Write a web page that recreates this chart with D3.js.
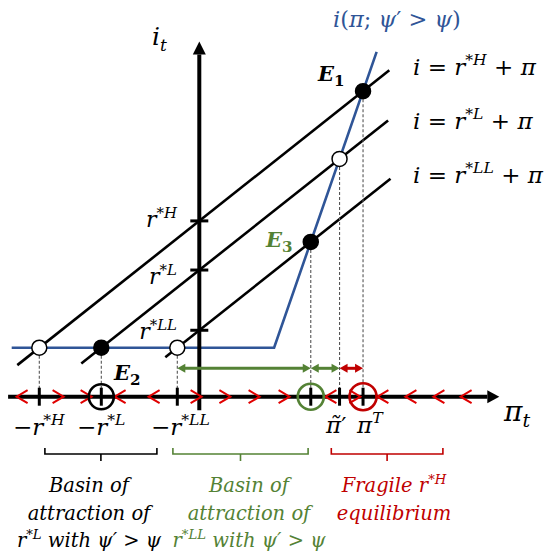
<!DOCTYPE html>
<html><head><meta charset="utf-8">
<script src="https://cdn.jsdelivr.net/npm/d3@7"></script>
<style>body{margin:0;background:#fff}</style>
</head><body>
<svg id="chart" width="554" height="553"></svg>
<script>
// Natural-rate regimes and the Fisher lines i = r* + pi
const regimes = ["H", "L", "LL"];
const rStar = [4.0, 2.45, 0.55];
const fisherFrom = [-4.55, -2.95, -0.85];
const fisherTo = [4.75, 4.72, 4.78];

// Policy rule i(pi; psi' > psi): zero floor, then a steep rise past the kink
const floorFrom = -4.69;
const kinkPi = 1.87;
const taylorSlope = 3.64;
const taylorTop = 9.33;

// Direction of inflation dynamics along the pi axis (+1 right, -1 left)
const chevronPi = [-4.43, -3.53, -2.83, -1.98, -1.13, -0.08, 0.64, 1.37, 2.12, 3.29, 3.89, 4.59, 5.29, 5.99, 6.67];
const chevronDir = [-1, 1, 1, -1, -1, 1, 1, 1, 1, -1, 1, -1, -1, -1, -1];

const BLUE = "#2f5597", GREEN = "#548235", RED = "#c00000", CHEV = "#e00000";
const SERIF = "'DejaVu Serif', serif";

const svg = d3.select("#chart");
const x = d3.scaleLinear().domain([0, 1]).range([199.3, 239.3]);
const y = d3.scaleLinear().domain([0, 1]).range([347.7, 316.0]);
const axisI = -1.546;      // level where the pi axis is drawn
const arrowRowI = -0.65;   // level of the interval arrows

// Equilibria: floor crossings at pi = -r*, upper crossings with the steep branch
const upperPi = rStar.map(r => (taylorSlope * kinkPi + r) / (taylorSlope - 1));
const floorEq = rStar.map((r, k) => ({pi: -r, i: 0, fill: regimes[k] === "L" ? "#000" : "#fff"}));
const upperEq = rStar.map((r, k) => ({pi: upperPi[k], i: r + upperPi[k], fill: regimes[k] === "L" ? "#fff" : "#000"}));
const piE3 = upperPi[2], piTilde = upperPi[1], piT = upperPi[0];

// Fisher lines
const line = d3.line().x(d => x(d[0])).y(d => y(d[1]));
rStar.forEach((r, k) => {
  svg.append("path")
    .attr("d", line([[fisherFrom[k], r + fisherFrom[k]], [fisherTo[k], r + fisherTo[k]]]))
    .attr("stroke", "#000").attr("stroke-width", 2.6).attr("fill", "none");
});

// Policy rule
const taylorPts = [[floorFrom, 0], [kinkPi, 0], [kinkPi + taylorTop / taylorSlope, taylorTop]];
svg.append("path").attr("d", line(taylorPts))
  .attr("stroke", BLUE).attr("stroke-width", 2.6).attr("fill", "none");

// Dashed projections onto the pi axis
const dash = svg.append("g").attr("stroke", "#555").attr("stroke-width", 1.1).attr("stroke-dasharray", "3,2");
floorEq.concat(upperEq).forEach(e => {
  dash.append("line").attr("x1", x(e.pi)).attr("x2", x(e.pi))
    .attr("y1", y(e.i) + 8).attr("y2", y(axisI));
});

// Axes
const axisG = svg.append("g");
axisG.append("line").attr("x1", x(0)).attr("x2", x(0)).attr("y1", y(-1.97)).attr("y2", y(9.25))
  .attr("stroke", "#000").attr("stroke-width", 4);
axisG.append("path").attr("d", `M${x(0) - 6.5},${y(9.25)} L${x(0)},${y(9.66)} L${x(0) + 6.5},${y(9.25)} Z`).attr("fill", "#000");
axisG.append("line").attr("x1", x(-4.78)).attr("x2", x(7.2)).attr("y1", y(axisI)).attr("y2", y(axisI))
  .attr("stroke", "#000").attr("stroke-width", 4);
axisG.append("path").attr("d", `M${x(7.2)},${y(axisI) - 6.5} L${x(7.5)},${y(axisI)} L${x(7.2)},${y(axisI) + 6.5} Z`).attr("fill", "#000");

// Ticks on the i axis at r*
rStar.forEach(r => {
  axisG.append("line").attr("x1", x(0) - 9).attr("x2", x(0) + 9).attr("y1", y(r)).attr("y2", y(r))
    .attr("stroke", "#000").attr("stroke-width", 3);
});
// Ticks on the pi axis
[-rStar[0], -rStar[1], -rStar[2], piE3, piTilde, piT].forEach(p => {
  axisG.append("line").attr("x1", x(p)).attr("x2", x(p)).attr("y1", y(axisI) - 9).attr("y2", y(axisI) + 9)
    .attr("stroke", "#000").attr("stroke-width", 3);
});

// Dynamics chevrons
chevronPi.forEach((p, k) => {
  const cx = x(p), cy = y(axisI), d = chevronDir[k];
  svg.append("path").attr("d", `M${cx - 5.5 * d},${cy - 6.5} L${cx + 5.5 * d},${cy} L${cx - 5.5 * d},${cy + 6.5}`)
    .attr("stroke", CHEV).attr("stroke-width", 2).attr("fill", "none");
});

// Rings marking stable / fragile points on the axis
[[-rStar[1], "#000", 12.5], [piE3, GREEN, 13], [piT, RED, 13.5]].forEach(([p, c, rad]) => {
  svg.append("circle").attr("cx", x(p)).attr("cy", y(axisI)).attr("r", rad)
    .attr("fill", "none").attr("stroke", c).attr("stroke-width", 2.6);
});

// Interval arrows
function doubleArrow(p1, p2, color) {
  const x1 = x(p1), x2 = x(p2), yy = y(arrowRowI), h = 8, w = 4.5;
  svg.append("line").attr("x1", x1 + h - 1).attr("x2", x2 - h + 1).attr("y1", yy).attr("y2", yy)
    .attr("stroke", color).attr("stroke-width", 3);
  svg.append("path").attr("d", `M${x1},${yy} L${x1 + h},${yy - w} L${x1 + h},${yy + w} Z`).attr("fill", color);
  svg.append("path").attr("d", `M${x2},${yy} L${x2 - h},${yy - w} L${x2 - h},${yy + w} Z`).attr("fill", color);
}
doubleArrow(-rStar[2], piE3, GREEN);
doubleArrow(piE3, piTilde, GREEN);
doubleArrow(piTilde, piT, RED);

// Equilibrium points
floorEq.concat(upperEq).forEach(e => {
  svg.append("circle").attr("cx", x(e.pi)).attr("cy", y(e.i)).attr("r", 7.5)
    .attr("fill", e.fill).attr("stroke", "#000").attr("stroke-width", 1.5);
});

// Math-style text: parts are [string, mode] with mode it | rm | sup | sub | bit
function mtext(px, py, parts, opt = {}) {
  const size = opt.size || 22;
  const t = svg.append("text").attr("x", px).attr("y", py)
    .attr("font-family", SERIF).attr("font-size", size)
    .attr("fill", opt.fill || "#000").attr("text-anchor", opt.anchor || "start");
  let shift = 0;
  parts.forEach(([s, mode]) => {
    const ts = t.append("tspan").text(s);
    let target = 0;
    if (mode === "sup") { target = -0.42 * size; ts.attr("font-size", size * 0.68).attr("font-style", "italic"); }
    else if (mode === "sub") { target = 0.22 * size; ts.attr("font-size", size * 0.68).attr("font-style", "italic"); }
    else if (mode === "subb") { target = 0.22 * size; ts.attr("font-size", size * 0.72).attr("font-weight", "bold"); }
    else if (mode === "it") ts.attr("font-style", "italic");
    else if (mode === "bit") ts.attr("font-style", "italic").attr("font-weight", "bold");
    if (target !== shift) { ts.attr("dy", target - shift); shift = target; }
  });
  return t;
}

mtext(152, 45, [["i", "it"], ["t", "sub"]], {size: 25});
mtext(333, 27, [["i", "it"], ["(", "rm"], ["π", "it"], ["; ", "rm"], ["ψ", "it"], ["′ > ", "rm"], ["ψ", "it"], [")", "rm"]], {size: 22.5, fill: BLUE});

mtext(413, 75, [["i", "it"], [" = ", "rm"], ["r", "it"], ["*H", "sup"], [" + ", "rm"], ["π", "it"]], {size: 23});
mtext(413, 129, [["i", "it"], [" = ", "rm"], ["r", "it"], ["*L", "sup"], [" + ", "rm"], ["π", "it"]], {size: 23});
mtext(413, 183, [["i", "it"], [" = ", "rm"], ["r", "it"], ["*LL", "sup"], [" + ", "rm"], ["π", "it"]], {size: 23});

mtext(177, 227, [["r", "it"], ["*H", "sup"]], {size: 22, anchor: "end"});
mtext(177, 284, [["r", "it"], ["*L", "sup"]], {size: 22, anchor: "end"});
mtext(177, 339, [["r", "it"], ["*LL", "sup"]], {size: 22, anchor: "end"});

mtext(318, 81, [["E", "bit"], ["1", "subb"]], {size: 21});
mtext(266, 247, [["E", "bit"], ["3", "subb"]], {size: 21, fill: GREEN});
mtext(114, 380, [["E", "bit"], ["2", "subb"]], {size: 21});

mtext(13, 435, [["−", "rm"], ["r", "it"], ["*H", "sup"]], {size: 23});
mtext(77, 435, [["−", "rm"], ["r", "it"], ["*L", "sup"]], {size: 23});
mtext(151, 435, [["−", "rm"], ["r", "it"], ["*LL", "sup"]], {size: 23});
mtext(326, 433, [["π̃", "it"], ["′", "rm"]], {size: 23});
mtext(357, 433, [["π", "it"], ["T", "sup"]], {size: 23});
mtext(504, 421, [["π", "it"], ["t", "sub"]], {size: 28});

// Basin braces and captions
function brace(p1, p2, color) {
  const x1 = x(p1), x2 = x(p2), top = 448, mid = 454, xm = (x1 + x2) / 2;
  svg.append("path").attr("d", `M${x1},${top} V${mid} H${x2} V${top} M${xm},${mid} V${mid + 7}`)
    .attr("stroke", color).attr("stroke-width", 1.6).attr("fill", "none");
}
brace(-3.86, -1.06, "#000");
brace(-0.66, 2.72, GREEN);
brace(3.3, 6.09, RED);

function caption(cx, lines, color) {
  lines.forEach((parts, k) => {
    mtext(cx, 492 + k * 27.5, parts, {size: 19.5, fill: color, anchor: "middle"});
  });
}
caption(89, [[["Basin of", "it"]], [["attraction of", "it"]], [["r", "it"], ["*L", "sup"], [" with ψ′ > ψ", "it"]]], "#000");
caption(249, [[["Basin of", "it"]], [["attraction of", "it"]], [["r", "it"], ["*LL", "sup"], [" with ψ′ > ψ", "it"]]], GREEN);
caption(394, [[["Fragile ", "it"], ["r", "it"], ["*H", "sup"]], [["equilibrium", "it"]]], RED);
</script>
</body></html>
